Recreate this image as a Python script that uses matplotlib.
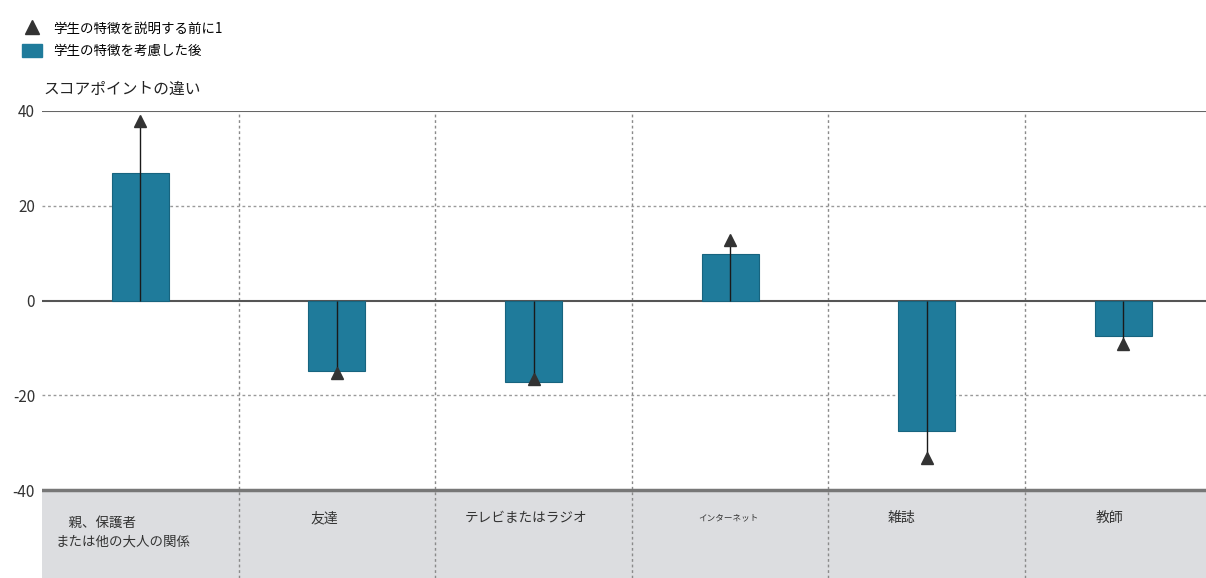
import matplotlib
matplotlib.use("Agg")
import matplotlib.pyplot as plt
from matplotlib.lines import Line2D
from matplotlib.patches import Patch

plt.rcParams['font.family'] = ['Noto Sans CJK JP', 'DejaVu Sans']

categories = ["\u3000親、保護者\nまたは他の大人の関係", "友達", "テレビまたはラジオ", "インターネット", "雑誌", "教師"]
after_values = [27, -14.8, -17.1, 9.9, -27.5, -7.5]
before_values = [37.8, -15.3, -16.6, 12.8, -33.3, -9.2]
yticks = [40, 20, 0, -20, -40]
legend_labels = ["学生の特徴を説明する前に1", "学生の特徴を考慮した後"]
title = "スコアポイントの違い"

label_dx = [-0.09, -0.066, -0.04, -0.01, -0.13, -0.07]
label_size = [9.7, 10, 9.8, 6.2, 10, 10]

bar_color = "#1f7b9b"
W, H = 1206, 578
fig = plt.figure(figsize=(W / 100, H / 100), dpi=100)
ax = fig.add_axes([42 / W, 0, 1 - 42 / W, 1 - 111 / H])

px_per_unit = 190 / 40
ymin = -40 - (578 - 490) / px_per_unit
ax.set_ylim(ymin, 40)
ax.set_xlim(-0.5, 5.42)

x = list(range(len(categories)))

# gray band for category labels
ax.axhspan(ymin, -40, color="#dcdde0", zorder=0, lw=0)

# grid lines
for yv in [20, -20]:
    ax.axhline(yv, color="#9a9a9a", lw=1, ls=(0, (2, 2)), zorder=1)
for xv in [i + 0.5 for i in x[:-1]]:
    ax.axvline(xv, color="#8a8a8a", lw=1, ls=(0, (2, 2)), zorder=1)
ax.axhline(40, color="#666666", lw=1.5, zorder=2)
ax.axhline(0, color="#555555", lw=1.5, zorder=2)
ax.axhline(-40, color="#777777", lw=2.5, zorder=2)

ax.bar(x, after_values, width=0.29, color=bar_color, edgecolor="#17647f", lw=0.8, zorder=3)
ax.vlines(x, 0, before_values, color="#1a1a1a", lw=1, zorder=4)
ax.plot(x, before_values, ls="none", marker="^", ms=9, color="#333333", zorder=5)

for i, (c, dx, fs) in enumerate(zip(categories, label_dx, label_size)):
    nlines = c.count("\n") + 1
    y_px = 519 + 14 * (nlines - 1)
    ax.text(i + dx, 40 - (y_px - 111) / px_per_unit, c, ha="center", va="center",
            fontsize=fs, color="#333333", linespacing=1.37, multialignment="left", zorder=6)

ax.set_yticks(yticks)
ax.set_yticklabels([str(v) for v in yticks], fontsize=11, color="#333333")
ax.tick_params(axis="y", length=0, pad=5)
ax.set_xticks([])
for s in ax.spines.values():
    s.set_visible(False)

fig.text(43 / W, 1 - 89 / H, title, fontsize=11.3, va="center", ha="left", color="#222222")

handles = [Line2D([], [], ls="none", marker="^", ms=10, color="#333333"),
           Patch(facecolor=bar_color, edgecolor=bar_color)]
fig.legend(handles, legend_labels, loc="upper left", bbox_to_anchor=(0.0105, 0.979),
           frameon=False, fontsize=9.7, handlelength=1.45, handleheight=1.1,
           handletextpad=0.85, labelspacing=0.6, borderaxespad=0.3)

fig.savefig("out.png", dpi=100)
